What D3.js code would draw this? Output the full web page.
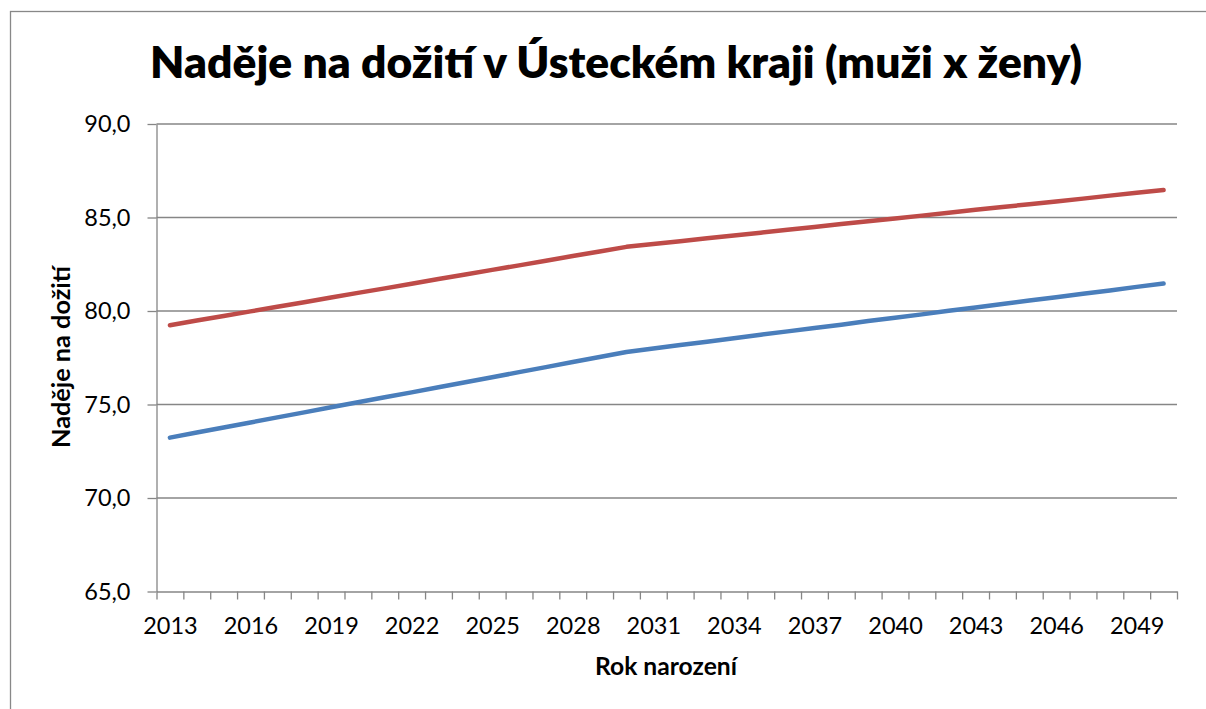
<!DOCTYPE html>
<html lang="cs">
<head>
<meta charset="utf-8">
<script src="https://cdn.jsdelivr.net/npm/d3@7"></script>
<style>
  html, body { margin: 0; padding: 0; background: #fff; }
  svg { display: block; font-family: Lato, "Open Sans", sans-serif; }
  .grid line { stroke: #868686; stroke-width: 1.3; }
  .axis path, .axis line { stroke: #868686; stroke-width: 1.3; }
  .axis text { fill: #000; font-size: 23.5px; font-family: Lato, sans-serif; }
</style>
</head>
<body>
<div id="chart"></div>
<script>
(function () {
  'use strict';

  // --- Data ---
  const years = d3.range(2013, 2051);
  const zeny = [
    79.24, 79.49, 79.73, 79.98, 80.23, 80.47, 80.72, 80.97, 81.21, 81.46,
    81.71, 81.95, 82.20, 82.44, 82.69, 82.94, 83.18, 83.43, 83.58, 83.73,
    83.89, 84.04, 84.19, 84.34, 84.49, 84.65, 84.80, 84.95, 85.10, 85.25,
    85.41, 85.56, 85.71, 85.86, 86.01, 86.17, 86.32, 86.47
  ];
  const muzi = [
    73.23, 73.50, 73.77, 74.04, 74.31, 74.58, 74.85, 75.12, 75.39, 75.65,
    75.92, 76.19, 76.46, 76.73, 77.00, 77.27, 77.54, 77.81, 77.99, 78.18,
    78.36, 78.54, 78.73, 78.91, 79.09, 79.27, 79.46, 79.64, 79.82, 80.01,
    80.19, 80.37, 80.56, 80.74, 80.92, 81.10, 81.29, 81.47
  ];
  const yTicks = [65, 70, 75, 80, 85, 90];
  const labelYears = d3.range(2013, 2051, 3);

  const TITLE = 'Naděje na dožití v Ústeckém kraji (muži x ženy)';
  const X_TITLE = 'Rok narození';
  const Y_TITLE = 'Naděje na dožití';

  // --- Layout ---
  const W = 1206, H = 709;
  const plot = { left: 156.5, right: 1177, top: 124, bottom: 591.5 };

  const cs = d3.formatLocale({ decimal: ',', thousands: ' ', grouping: [3], currency: ['', ' Kč'] });
  const fmt = cs.format('.1f');

  const svg = d3.select('#chart').append('svg')
    .attr('width', W).attr('height', H);

  // chart area border
  svg.append('rect')
    .attr('x', 10.5).attr('y', 11.5)
    .attr('width', W).attr('height', H)
    .attr('fill', '#fff')
    .attr('stroke', '#888').attr('stroke-width', 1.3);

  // scales
  const xIdx = d3.scaleLinear().domain([0, years.length]).range([plot.left, plot.right]);
  const x = yr => xIdx(years.indexOf(yr) + 0.5);
  const y = d3.scaleLinear().domain([65, 90]).range([plot.bottom, plot.top]);

  // gridlines
  svg.append('g').attr('class', 'grid')
    .selectAll('line').data(yTicks.slice(1)).join('line')
    .attr('x1', plot.left).attr('x2', plot.right)
    .attr('y1', d => y(d)).attr('y2', d => y(d));

  // y axis
  svg.append('g').attr('class', 'axis')
    .attr('transform', `translate(${plot.left},0)`)
    .call(d3.axisLeft(y).tickValues(yTicks).tickSize(9).tickPadding(17).tickFormat(fmt).tickSizeOuter(0));

  // x axis: tick marks between categories
  svg.append('g').attr('class', 'axis')
    .attr('transform', `translate(0,${plot.bottom})`)
    .call(d3.axisBottom(xIdx).tickValues(d3.range(0, years.length + 1)).tickSize(8).tickFormat('').tickSizeOuter(0));

  // x labels every third year
  svg.append('g').attr('class', 'axis')
    .attr('transform', `translate(0,${plot.bottom})`)
    .call(d3.axisBottom(d3.scalePoint().domain(labelYears).range([x(labelYears[0]), x(labelYears[labelYears.length - 1])]))
      .tickSize(0).tickPadding(26))
    .call(g => g.select('.domain').remove());

  // lines
  const line = d3.line()
    .x((d, i) => xIdx(i + 0.5))
    .y(d => y(d));

  svg.append('path').datum(muzi)
    .attr('d', line).attr('fill', 'none')
    .attr('stroke', '#4A7EBB').attr('stroke-width', 4.5)
    .attr('stroke-linecap', 'round').attr('stroke-linejoin', 'round');

  svg.append('path').datum(zeny)
    .attr('d', line).attr('fill', 'none')
    .attr('stroke', '#BE4B48').attr('stroke-width', 4.5)
    .attr('stroke-linecap', 'round').attr('stroke-linejoin', 'round');

  // titles
  function fitText(sel, target) {
    const len = sel.node().getComputedTextLength();
    const fs = parseFloat(sel.attr('font-size'));
    sel.attr('font-size', (fs * target / len).toFixed(2));
  }

  const title = svg.append('text')
    .attr('x', 616).attr('y', 78)
    .attr('text-anchor', 'middle')
    .attr('font-size', 38).attr('font-weight', 800)
    .text(TITLE);
  fitText(title, 932);

  const xt = svg.append('text')
    .attr('x', 666).attr('y', 675)
    .attr('text-anchor', 'middle')
    .attr('font-size', 20).attr('font-weight', 700)
    .text(X_TITLE);
  fitText(xt, 142);

  const yt = svg.append('text')
    .attr('transform', 'translate(70,357) rotate(-90)')
    .attr('text-anchor', 'middle')
    .attr('font-size', 20).attr('font-weight', 700)
    .text(Y_TITLE);
  fitText(yt, 182);
})();
</script>
</body>
</html>
